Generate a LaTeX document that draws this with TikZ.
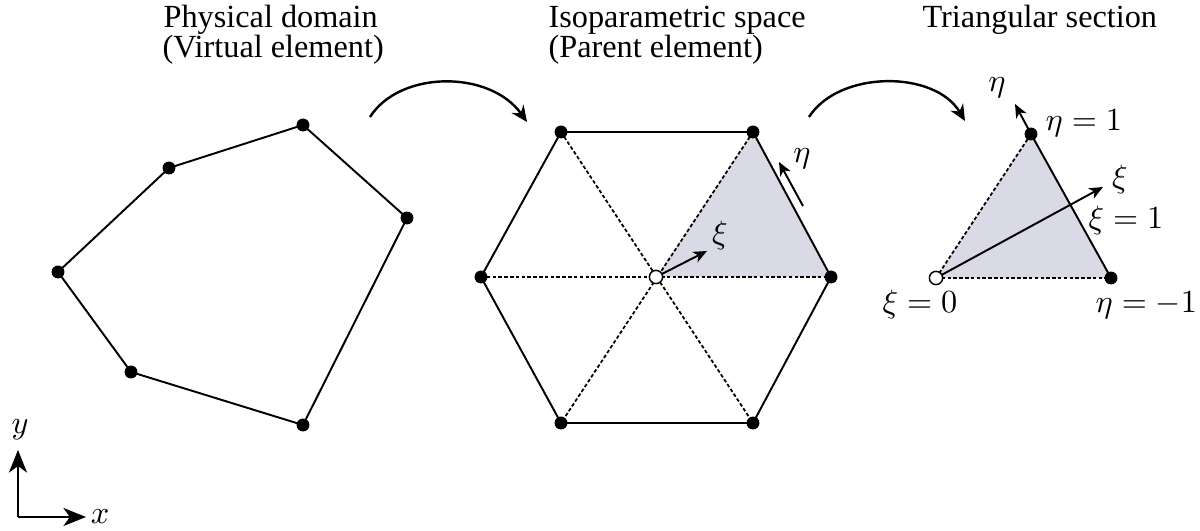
\documentclass[tikz,border=0pt]{standalone}
\usepackage{fontspec}
\setmainfont{Liberation Serif}
\usetikzlibrary{arrows.meta}
\definecolor{shadecol}{RGB}{218,218,230}
\begin{document}
\begin{tikzpicture}[x=0.31pt,y=-0.31pt,
  edge/.style={line width=0.6pt},
  dotedge/.style={line width=0.55pt, dash pattern=on 1.1pt off 0.7pt},
  vdot/.style={circle, fill=black, inner sep=0pt, minimum size=4pt},
  odot/.style={circle, draw=black, fill=white, line width=0.45pt, inner sep=0pt, minimum size=4.1pt},
  maparrow/.style={line width=0.75pt, -{Stealth[length=5pt,width=4.5pt,inset=1.6pt]}},
  locarrow/.style={line width=0.6pt, -{Stealth[length=4.2pt,width=3.6pt,inset=1.2pt]}},
  axarrow/.style={line width=0.6pt, -{Stealth[length=7pt,width=5.6pt,inset=2pt]}},
  title/.style={anchor=base west, inner sep=0pt},
  lab/.style={inner sep=0pt},
  labb/.style={anchor=base west, inner sep=0pt}
]
\useasboundingbox (0,0) rectangle (1200,531);

% titles
\node[title] (t1a) at (163,28) {Physical domain};
\node[title] (t1b) at (162,58) {(Virtual element)};
\node[title] (t2a) at (548,28) {Isoparametric space};
\node[title] (t2b) at (548,58) {(Parent element)};
\node[title] (t3a) at (922,28) {Triangular section};

% physical polygon
\coordinate (p1) at (303,125);
\coordinate (p2) at (169,168);
\coordinate (p3) at (58,272);
\coordinate (p4) at (131,372);
\coordinate (p5) at (303,425);
\coordinate (p6) at (407,218);
\draw[edge] (p1) -- (p2) -- (p3) -- (p4) -- (p5) -- (p6) -- cycle;

% hexagon
\coordinate (hc) at (656,277);
\coordinate (h1) at (753,132);
\coordinate (h2) at (561,132);
\coordinate (h3) at (481,277);
\coordinate (h4) at (561,423);
\coordinate (h5) at (753,423);
\coordinate (h6) at (831,277);
\fill[shadecol] (hc) -- (h1) -- (h6) -- cycle;
\draw[dotedge] (h1) -- (h4);
\draw[dotedge] (h2) -- (h5);
\draw[dotedge] (h3) -- (h6);
\draw[edge] (h1) -- (h2) -- (h3) -- (h4) -- (h5) -- (h6) -- cycle;

% local axes in hexagon
\coordinate (hxi) at (707,251);
\draw[locarrow] (hc) -- (hxi);
\node[lab] (lxi1) at (720,235) {$\xi$};
\coordinate (heta0) at (803,206);
\coordinate (heta1) at (779,162);
\draw[locarrow] (heta0) -- (heta1);
\node[lab] (leta1) at (802,159) {$\eta$};

% triangle section
\coordinate (tc) at (936,278);
\coordinate (tt) at (1031,134);
\coordinate (tr) at (1111,278);
\fill[shadecol] (tc) -- (tt) -- (tr) -- cycle;
\draw[dotedge] (tc) -- (tt);
\draw[dotedge] (tc) -- (tr);
\draw[edge] (tt) -- (tr);
\coordinate (teta) at (1015,104);
\draw[locarrow] (tt) -- (teta);
\coordinate (txi) at (1103,187);
\draw[locarrow] (tc) -- (txi);
\node[lab] (leta2) at (997,88) {$\eta$};
\node[lab] (lxi2) at (1120,179) {$\xi$};
\node[labb] (letaone) at (1045,131) {$\eta=1$};
\node[labb] (lxione) at (1088,229) {$\xi=1$};
\node[labb] (lxizero) at (882,313) {$\xi=0$};
\node[labb] (letam) at (1095,313) {$\eta=-1$};

% mapping arrows
\coordinate (a1s) at (370,117);
\coordinate (a1e) at (527,122);
\draw[maparrow] (a1s) .. controls (400,70) and (490,70) .. (a1e);
\coordinate (a2s) at (809,117);
\coordinate (a2e) at (965,121);
\draw[maparrow] (a2s) .. controls (839,70) and (935,70) .. (a2e);

% vertex dots
\foreach \p in {p1,p2,p3,p4,p5,p6,h1,h2,h3,h4,h5,h6,tt,tr}
  \node[vdot] at (\p) {};
\node[odot] (hco) at (hc) {};
\node[odot] (tco) at (tc) {};

% global axes
\coordinate (o) at (18,517);
\coordinate (oy) at (18,450);
\coordinate (ox) at (86,517);
\draw[axarrow] (o) -- (oy);
\draw[axarrow] (o) -- (ox);
\node[lab] (ly) at (20,430) {$y$};
\node[lab] (lx) at (100,517) {$x$};
\end{tikzpicture}
\end{document}
